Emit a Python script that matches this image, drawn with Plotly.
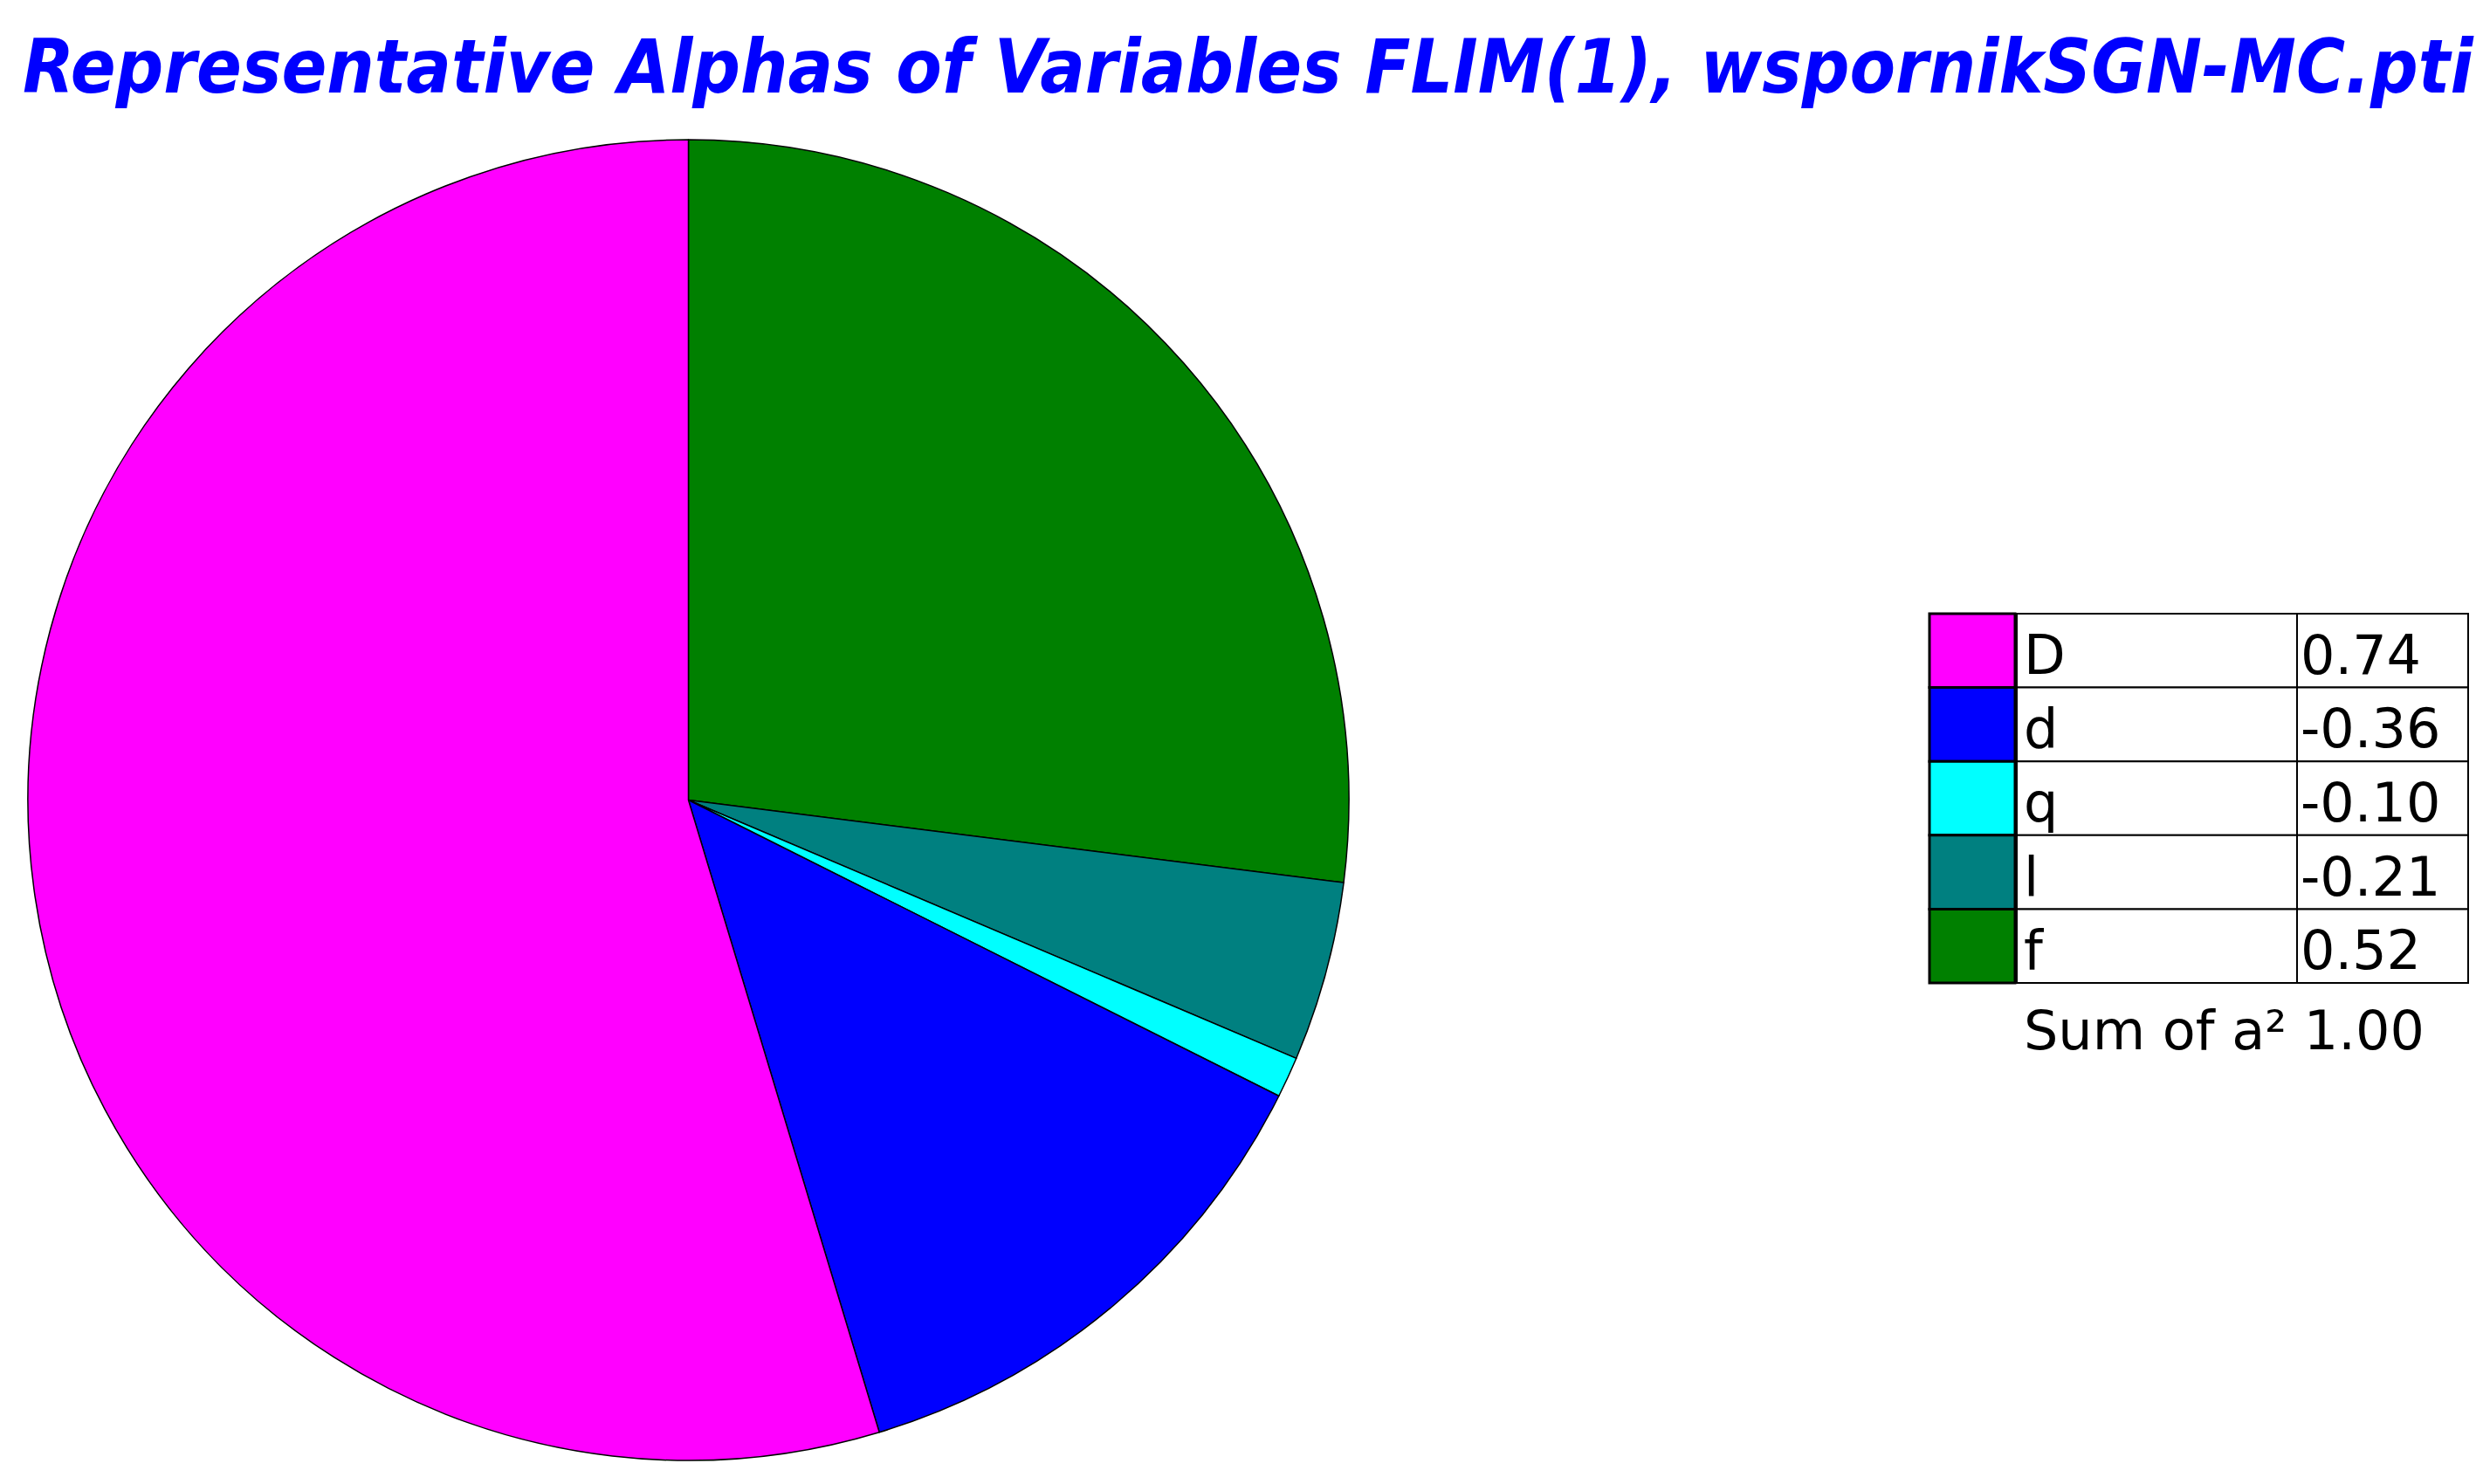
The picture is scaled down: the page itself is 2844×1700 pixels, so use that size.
import plotly.graph_objects as go

title_text = "Representative Alphas of Variables FLIM(1), wspornikSGN-MC.pti"
variables = ["D", "d", "q", "l", "f"]
alphas = [0.74, -0.36, -0.10, -0.21, 0.52]
colors = ["#FF00FF", "#0000FF", "#00FFFF", "#008080", "#008000"]
sum_label = "Sum of a² 1.00"

W, H = 2844, 1700

def px(x):
    return x / W

def py(y):
    return 1 - y / H

shares = [a * a for a in alphas]

fig = go.Figure()
fig.add_trace(go.Pie(
    labels=variables[::-1],
    values=shares[::-1],
    sort=False,
    direction="clockwise",
    rotation=0,
    marker=dict(colors=colors[::-1], line=dict(color="black", width=1.5)),
    textinfo="none",
    hoverinfo="label+value",
    showlegend=False,
    domain=dict(x=[px(18), px(1543)], y=[py(1665), py(152)]),
))

shapes = []
annotations = []

# legend table
x_box0, x_box1 = 2202, 2300
x_lab0, x_lab1 = 2302, 2623
x_val1 = 2819
y0 = 695
row_h = 84.6
for i, (v, a, c) in enumerate(zip(variables, alphas, colors)):
    top = y0 + i * row_h
    bot = top + row_h
    shapes.append(dict(type="rect", xref="paper", yref="paper",
                       x0=px(x_box0), x1=px(x_box1), y0=py(bot), y1=py(top),
                       fillcolor=c, line=dict(color="black", width=3)))
    shapes.append(dict(type="rect", xref="paper", yref="paper",
                       x0=px(x_lab0), x1=px(x_lab1), y0=py(bot), y1=py(top),
                       fillcolor="white", line=dict(color="black", width=2)))
    shapes.append(dict(type="rect", xref="paper", yref="paper",
                       x0=px(x_lab1), x1=px(x_val1), y0=py(bot), y1=py(top),
                       fillcolor="white", line=dict(color="black", width=2)))
    annotations.append(dict(xref="paper", yref="paper", x=px(x_lab0 + 6), y=py(top + row_h * 0.56),
                            text=v, showarrow=False, xanchor="left", yanchor="middle",
                            font=dict(family="DejaVu Sans", size=62, color="black")))
    annotations.append(dict(xref="paper", yref="paper", x=px(x_lab1 + 2), y=py(top + row_h * 0.56),
                            text=f"{a:.2f}", showarrow=False, xanchor="left", yanchor="middle",
                            font=dict(family="DejaVu Sans", size=62, color="black")))

annotations.append(dict(xref="paper", yref="paper", x=px(2308), y=py(1172),
                        text=sum_label, showarrow=False, xanchor="left", yanchor="middle",
                        font=dict(family="DejaVu Sans", size=62, color="black")))

annotations.append(dict(xref="paper", yref="paper", x=px(1422), y=py(68),
                        text=title_text, showarrow=False, xanchor="center", yanchor="middle",
                        font=dict(family="DejaVu Sans Condensed", size=85, color="#0000FF",
                                  weight="bold", style="italic")))

fig.update_layout(
    width=W, height=H,
    margin=dict(l=0, r=0, t=0, b=0),
    paper_bgcolor="white",
    plot_bgcolor="white",
    shapes=shapes,
    annotations=annotations,
)

fig.write_html("out.html", config={"displayModeBar": False})
